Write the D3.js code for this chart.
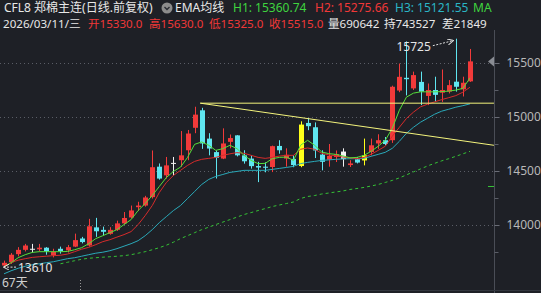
<!DOCTYPE html>
<html>
<head>
<meta charset="utf-8">
<script src="https://cdn.jsdelivr.net/npm/d3@7"></script>
<style>
html, body { margin: 0; padding: 0; background: #1e2026; }
svg { display: block; font-family: "Noto Sans", "Noto Sans CJK SC", sans-serif; }
</style>
</head>
<body>
<svg id="chart" width="541" height="293"></svg>
<script>
// daily candles, oldest first (last = 2026/03/11)
const opens  = [13625,13655,13730,13770,13780,13775,13790,13720,13780,13765,13800,13875,13810,13978,13955,13918,13955,14015,14070,14165,
                14180,14258,14540,14460,14575,14600,14692,14900,15062,14800,14675,14615,14770,14830,14645,14615,14546,14540,14537,14732,
                14615,14612,14546,14945,14905,14652,14605,14630,14680,14555,14608,14598,14676,14755,14785,14785,15245,15363,15265,15325,
                15195,15250,15225,15235,15327,15256,15330]
const highs  = [13670,13740,13795,13825,13825,13825,13795,13780,13800,13815,13920,13890,14057,14066,13985,13980,14040,14120,14180,14215,
                14270,14690,14570,14630,14630,14870,14880,15095,15085,14850,14692,14895,14838,14832,14692,14645,14585,14580,14735,14785,
                14710,14645,14960,14990,14950,14692,14750,14690,14710,14600,14630,14800,14800,14840,14815,15290,15495,15700,15420,15420,
                15310,15373,15440,15342,15725,15373,15630]
const lows   = [13610,13640,13710,13755,13745,13755,13725,13700,13735,13745,13795,13830,13800,13890,13905,13910,13945,14005,14060,14130,
                14170,14245,14420,14430,14460,14540,14600,14850,14705,14645,14430,14610,14710,14635,14568,14522,14397,14488,14490,14660,
                14540,14535,14535,14878,14620,14506,14540,14583,14540,14537,14570,14552,14645,14705,14740,14760,15230,15200,15250,15110,
                15110,15140,15140,15218,15235,15190,15325]
const closes = [13650,13725,13770,13810,13780,13790,13757,13750,13758,13795,13860,13842,13988,13942,13937,13955,14015,14065,14135,14180,
                14255,14535,14430,14552,14575,14645,14847,15022,14755,14708,14622,14755,14805,14645,14590,14545,14532,14530,14730,14692,
                14650,14555,14930,14915,14690,14585,14640,14655,14610,14570,14578,14645,14738,14785,14750,15280,15372,15350,15388,15235,
                15250,15205,15250,15295,15280,15317,15515]
const markedDays = [42, 51]   // days flagged yellow in the app
const whiteDays = [48]

// EMA H1 / H2 / H3 and the long dashed MA
const ema1 = [13613,13650,13697,13725,13746,13753,13753,13753,13753,13755,13771,13790,13827,13874,13901,13929,13957,14004,14050,14134,
              14199,14273,14357,14440,14496,14536,14626,14747,14769,14738,14691,14707,14738,14707,14645,14598,14568,14571,14614,14626,
              14629,14598,14738,14784,14738,14676,14661,14654,14640,14622,14626,14645,14682,14729,14784,14896,15063,15184,15221,15233,
              15233,15233,15235,15240,15249,15265,15360.74]
const ema2 = [13607,13653,13674,13688,13700,13706,13711,13716,13720,13731,13753,13776,13793,13818,13846,13864,13888,13911,13939,14004,
              14087,14180,14301,14394,14459,14506,14552,14589,14608,14617,14626,14645,14659,14670,14664,14645,14626,14617,14626,14638,
              14645,14645,14701,14713,14701,14664,14650,14640,14629,14622,14614,14626,14654,14691,14729,14822,14905,14986,15045,15094,
              15119,15140,15161,15179,15198,15230,15275.66]
const ema3 = [13548,13576,13599,13618,13632,13641,13651,13660,13674,13688,13697,13711,13725,13739,13748,13762,13781,13804,13827,13855,
              13901,13957,14022,14078,14134,14180,14245,14310,14375,14422,14450,14468,14487,14496,14506,14506,14506,14506,14515,14524,
              14533,14543,14568,14580,14589,14598,14603,14608,14612,14614,14614,14617,14636,14654,14673,14710,14775,14849,14905,14952,
              14989,15026,15054,15072,15091,15105,15121.55]
const maLong = [null,null,null,null,null,null,null,null,13641,13655,13669,13683,13692,13697,13702,13706,13711,13716,13725,13739,
              13753,13771,13790,13813,13841,13874,13901,13929,13957,13980,14004,14027,14050,14073,14097,14115,14134,14152,14171,14185,
              14199,14213,14245,14264,14273,14287,14296,14306,14315,14329,14338,14348,14361,14375,14394,14413,14436,14464,14492,14519,
              14547,14571,14594,14614,14636,14659,14682]

const priceTicks = [14000, 14500, 15000, 15500]
const minorTicks = [13750, 14250, 14750, 15250]
const lastPrice = 15515
const maMarker = 14360

// hand-drawn trend lines: [day, price] -> [day, price]
const trendLines = [
    [[27.8, 15128], [69.4, 15128]],
    [[27.8, 15128], [69.4, 14738]]
]

const header1 = [
    {t: "CFL8 郑棉主连(日线.前复权)", x: 4, c: "#e8e8e8"},
    {t: "EMA均线", x: 175, c: "#e8e8e8"},
    {t: "H1: 15360.74", x: 233, c: "#3fd43f"},
    {t: "H2: 15275.66", x: 315, c: "#f03838"},
    {t: "H3: 15121.55", x: 395, c: "#2bb5c5"},
    {t: "MA", x: 473, c: "#3fd43f"}
]
const header2 = [
    {t: "2026/03/11/三", x: 3, c: "#e8e8e8"},
    {t: "开15330.0", x: 88, c: "#f03838"},
    {t: "高15630.0", x: 149, c: "#f03838"},
    {t: "低15325.0", x: 209, c: "#f03838"},
    {t: "收15515.0", x: 269, c: "#f03838"},
    {t: "量690642", x: 328, c: "#e8e8e8"},
    {t: "持743527", x: 384, c: "#e8e8e8"},
    {t: "差21849", x: 442, c: "#e8e8e8"}
]

const W = 541, H = 293, plotRight = 494
const RED = "#f23a3a", CYAN = "#5fe6f0", YELLOW = "#ffff1a", WHITE = "#f2f2f2"

const days = d3.range(closes.length)
const x = d3.scaleBand().domain(days).range([0.47, 473.49]).padding(0)
const cx = i => x.range()[0] + x.step() * (i + 0.5)
const y = d3.scaleLinear().domain([14000, 15500]).range([225, 63])

const svg = d3.select("#chart")

svg.append("rect").attr("width", W).attr("height", H).attr("fill", "#1e2026")

// grid
svg.append("g").selectAll("line")
    .data(priceTicks)
    .join("line")
    .attr("x1", 0).attr("x2", plotRight)
    .attr("y1", d => Math.round(y(d)) + 0.5).attr("y2", d => Math.round(y(d)) + 0.5)
    .attr("stroke", "#5a5d66").attr("stroke-dasharray", "1,3")

// frame lines
svg.append("line").attr("x1", plotRight + 0.5).attr("x2", plotRight + 0.5).attr("y1", 30).attr("y2", H)
    .attr("stroke", "#4a4d56")
svg.append("line").attr("x1", 0).attr("x2", W).attr("y1", 290.5).attr("y2", 290.5)
    .attr("stroke", "#33363e")

// candles
function candleColor(i) {
    if (markedDays.includes(i)) return YELLOW
    if (whiteDays.includes(i)) return WHITE
    if (closes[i] > opens[i]) return RED
    if (closes[i] < opens[i]) return CYAN
    return WHITE
}

const candles = svg.append("g").selectAll("g")
    .data(days)
    .join("g")

candles.append("line")
    .attr("x1", i => Math.round(cx(i)) + 0.5).attr("x2", i => Math.round(cx(i)) + 0.5)
    .attr("y1", i => y(highs[i])).attr("y2", i => y(lows[i]))
    .attr("stroke", candleColor)

candles.append("rect")
    .attr("x", i => Math.round(cx(i)) - 2)
    .attr("width", 5)
    .attr("y", i => y(Math.max(opens[i], closes[i])))
    .attr("height", i => Math.max(1, Math.abs(y(opens[i]) - y(closes[i]))))
    .attr("fill", candleColor)

// moving averages
const line = d3.line()
    .defined(d => d != null)
    .x((d, i) => cx(i))
    .y(d => y(d))

const maSeries = [
    {v: maLong, c: "#35c235", dash: "3,3"},
    {v: ema3, c: "#2aa9b9"},
    {v: ema2, c: "#d62b2b"},
    {v: ema1, c: "#55e03a"}
]
svg.append("g").selectAll("path")
    .data(maSeries)
    .join("path")
    .attr("d", d => line(d.v))
    .attr("fill", "none")
    .attr("stroke", d => d.c)
    .attr("stroke-width", 1)
    .attr("stroke-dasharray", d => d.dash || null)

// trend lines
svg.append("g").selectAll("line")
    .data(trendLines)
    .join("line")
    .attr("x1", d => cx(d[0][0])).attr("y1", d => y(d[0][1]))
    .attr("x2", d => cx(d[1][0])).attr("y2", d => y(d[1][1]))
    .attr("stroke", "#f4f47c").attr("stroke-width", 1)

// right axis
const axisG = svg.append("g")
    .attr("transform", "translate(" + (plotRight + 0.5) + ",0)")
    .call(d3.axisRight(y).tickValues(priceTicks).tickSize(5).tickPadding(7).tickFormat(d3.format("d")))
axisG.select(".domain").remove()
axisG.selectAll("line").attr("stroke", "#6a6d76")
axisG.selectAll("text")
    .attr("fill", "#b8b8b8").attr("font-size", 12)
    .attr("font-family", "\"Noto Sans\", sans-serif")

const minorG = svg.append("g")
    .attr("transform", "translate(" + (plotRight + 0.5) + ",0)")
    .call(d3.axisRight(y).tickValues(minorTicks).tickSize(4).tickFormat(""))
minorG.select(".domain").remove()
minorG.selectAll("line").attr("stroke", "#5a5d66")

// last price marker
svg.append("path")
    .attr("d", "M" + (plotRight - 6) + "," + y(lastPrice) + "l6,-5v10z")
    .attr("fill", "#8a8d94")
svg.append("line")
    .attr("x1", plotRight - 6).attr("x2", plotRight)
    .attr("y1", Math.round(y(maMarker)) + 0.5).attr("y2", Math.round(y(maMarker)) + 0.5)
    .attr("stroke", "#35c235")

// extreme labels
const hiDay = d3.maxIndex(highs), loDay = d3.minIndex(lows)
const defs = svg.append("defs")
defs.append("marker").attr("id", "arrow")
    .attr("viewBox", "0 0 8 8").attr("refX", 7).attr("refY", 4)
    .attr("markerWidth", 6).attr("markerHeight", 6).attr("orient", "auto")
    .append("path").attr("d", "M0,0L8,4L0,8").attr("fill", "none").attr("stroke", "#e0e0e0").attr("stroke-width", 1.3)

const hx = cx(hiDay) - 3, hy = y(highs[hiDay]) + 2
svg.append("line")
    .attr("x1", hx - 20).attr("y1", hy + 5).attr("x2", hx).attr("y2", hy)
    .attr("stroke", "#e0e0e0").attr("stroke-dasharray", "2,1.5").attr("marker-end", "url(#arrow)")
svg.append("text")
    .attr("x", hx - 22).attr("y", hy + 10).attr("text-anchor", "end")
    .attr("fill", "#e6e6e6").attr("font-size", 12)
    .text(d3.format("d")(highs[hiDay]))

const lx = cx(loDay), ly = y(lows[loDay])
svg.append("line")
    .attr("x1", lx + 12).attr("y1", ly).attr("x2", lx).attr("y2", ly)
    .attr("stroke", "#e0e0e0").attr("stroke-dasharray", "2,1.5").attr("marker-end", "url(#arrow)")
svg.append("text")
    .attr("x", lx + 14).attr("y", ly + 4.5)
    .attr("fill", "#e6e6e6").attr("font-size", 12)
    .text(d3.format("d")(lows[loDay]))

svg.append("text")
    .attr("x", 2).attr("y", 287)
    .attr("fill", "#d0d0d0").attr("font-size", 12)
    .text(closes.length + "天")

svg.append("line")
    .attr("x1", 80.5).attr("x2", 80.5).attr("y1", 280).attr("y2", 290)
    .attr("stroke", "#9a9a9a").attr("stroke-dasharray", "1,2")

// header
svg.append("g").selectAll("text")
    .data(header1)
    .join("text")
    .attr("x", d => d.x).attr("y", 11.5)
    .attr("fill", d => d.c).attr("font-size", 12)
    .text(d => d.t)

svg.append("g").selectAll("text")
    .data(header2)
    .join("text")
    .attr("x", d => d.x).attr("y", 27.5)
    .attr("fill", d => d.c).attr("font-size", 11.6)
    .text(d => d.t)

// dropdown icon
const icon = svg.append("g").attr("transform", "translate(167,8)")
icon.append("circle").attr("r", 5.5).attr("fill", "#8c8c8c")
icon.append("path").attr("d", "M-2.5,-1L0,1.5L2.5,-1").attr("fill", "none")
    .attr("stroke", "#2a2c33").attr("stroke-width", 1.4)
</script>
</body>
</html>
